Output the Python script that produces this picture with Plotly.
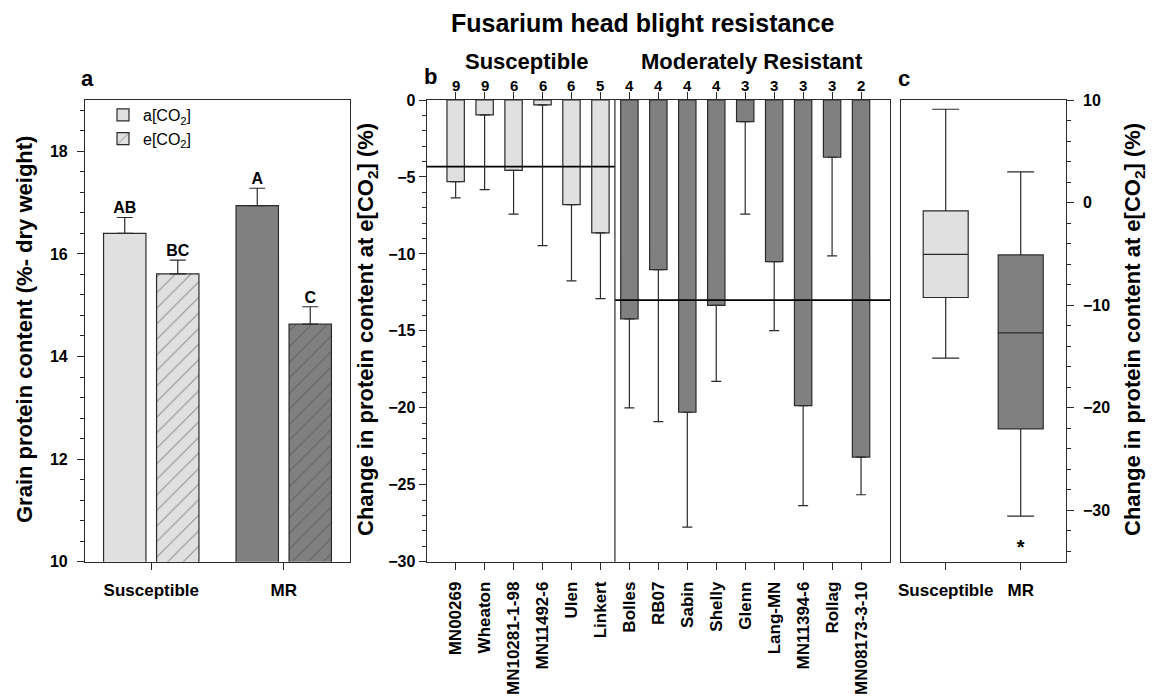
import plotly.graph_objects as go

W, H = 1158, 699
FONT = "Liberation Sans, Arial, sans-serif"
INK = "#2b2b2b"
LIGHT = "#e0e0e0"
DARK = "#808080"

# ---- panel a: grain protein by resistance class and CO2 treatment ----
groups = ["Susceptible", "MR"]
protein_ambient = [16.40, 16.94]
protein_ambient_se = [0.31, 0.34]
protein_elevated = [15.61, 14.63]
protein_elevated_se = [0.27, 0.34]
letters_ambient = ["AB", "A"]
letters_elevated = ["BC", "C"]

# ---- panel b: per-cultivar change in protein at e[CO2] ----
susceptible_cultivars = ["MN00269", "Wheaton", "MN10281-1-98", "MN11492-6", "Ulen", "Linkert"]
resistant_cultivars = ["Bolles", "RB07", "Sabin", "Shelly", "Glenn", "Lang-MN",
                       "MN11394-6", "Rollag", "MN08173-3-10"]
susceptible_change = [-5.30, -0.97, -4.57, -0.32, -6.80, -8.64]
susceptible_err = [1.06, 4.85, 2.85, 9.14, 4.95, 4.26]
resistant_change = [-14.22, -11.02, -20.29, -13.35, -1.41, -10.50, -19.86, -3.72, -23.20]
resistant_err = [5.79, 9.88, 7.46, 4.93, 6.01, 4.48, 6.50, 6.41, 2.45]
susceptible_n = [9, 9, 6, 6, 6, 5]
resistant_n = [4, 4, 4, 4, 3, 3, 3, 3, 2]
group_means = [-4.33, -13.0]

# ---- panel c: distribution of change by resistance class ----
box_groups = ["Susceptible", "MR"]
box_upper = [9.1, 3.0]
box_q3 = [-0.8, -5.1]
box_median = [-5.05, -12.7]
box_q1 = [-9.25, -22.05]
box_lower = [-15.15, -30.55]
mr_outlier = [-32.8]


def px(x):
    return x / W


def py(y):
    return 1 - y / H


Y_DOMAIN = [py(561.7), py(100)]
TICK = dict(family=FONT, size=16, color="black", weight="bold")
XTICK = dict(family=FONT, size=17, color="black", weight="bold")


def axis_style(**kw):
    base = dict(showline=True, linecolor=INK, linewidth=1.2, ticks="outside",
                tickcolor=INK, tickwidth=1.2, ticklen=7, showgrid=False,
                zeroline=False, tickfont=TICK, automargin=False)
    base.update(kw)
    return base


fig = go.Figure()

# panel a bars
GROUP_OFFSET = 0.2
BAR_W = 0.32
xa = list(range(len(groups)))
x_amb = [i - GROUP_OFFSET for i in xa]
x_elv = [i + GROUP_OFFSET for i in xa]

fig.add_trace(go.Bar(
    x=x_amb, y=protein_ambient, width=BAR_W, name="a[CO<sub>2</sub>]",
    marker=dict(color=[LIGHT, DARK], line=dict(color=INK, width=1.2)),
    error_y=dict(type="data", symmetric=False, array=protein_ambient_se,
                 arrayminus=[0] * len(groups), color=INK, thickness=1.2, width=8),
    xaxis="x", yaxis="y",
))
fig.add_trace(go.Bar(
    x=x_elv, y=protein_elevated, width=BAR_W, name="e[CO<sub>2</sub>]",
    marker=dict(color=[LIGHT, DARK], line=dict(color=INK, width=1.2),
                pattern=dict(shape="/", fgcolor=INK, bgcolor=[LIGHT, DARK],
                             size=11, solidity=0.1, fillmode="overlay")),
    error_y=dict(type="data", symmetric=False, array=protein_elevated_se,
                 arrayminus=[0] * len(groups), color=INK, thickness=1.2, width=8),
    xaxis="x", yaxis="y",
))
fig.add_trace(go.Scatter(
    x=x_amb + x_elv,
    y=[v + e for v, e in zip(protein_ambient, protein_ambient_se)]
      + [v + e for v, e in zip(protein_elevated, protein_elevated_se)],
    text=letters_ambient + letters_elevated, mode="text", textposition="top center",
    textfont=dict(family=FONT, size=16, color="black", weight="bold"),
    showlegend=False, xaxis="x", yaxis="y", cliponaxis=False, hoverinfo="skip",
))

# panel b bars
cultivars = susceptible_cultivars + resistant_cultivars
change = susceptible_change + resistant_change
errs = susceptible_err + resistant_err
counts = susceptible_n + resistant_n
xb = list(range(len(cultivars)))
colors_b = [LIGHT] * len(susceptible_cultivars) + [DARK] * len(resistant_cultivars)

fig.add_trace(go.Bar(
    x=xb, y=change, width=0.6,
    marker=dict(color=colors_b, line=dict(color=INK, width=1.2)),
    error_y=dict(type="data", symmetric=False, array=[0] * len(change),
                 arrayminus=errs, color=INK, thickness=1.2, width=5),
    showlegend=False, xaxis="x2", yaxis="y2",
))

split = len(susceptible_cultivars) - 0.5
xb_lo, xb_hi = -1, len(cultivars)
for (x0, x1), m in zip([(xb_lo, split), (split, xb_hi)], group_means):
    fig.add_trace(go.Scatter(
        x=[x0, x1], y=[m, m], mode="lines", line=dict(color="black", width=1.8),
        showlegend=False, xaxis="x2", yaxis="y2", hoverinfo="skip",
    ))

# panel c boxes
for g, up, q3, med, q1, lo, col in zip(box_groups, box_upper, box_q3, box_median,
                                        box_q1, box_lower, [LIGHT, DARK]):
    fig.add_trace(go.Box(
        x=[g], q1=[q1], median=[med], q3=[q3], lowerfence=[lo], upperfence=[up],
        width=0.6, whiskerwidth=0.6, fillcolor=col,
        line=dict(color=INK, width=1.2), boxpoints=False,
        showlegend=False, xaxis="x3", yaxis="y3",
    ))
fig.add_trace(go.Scatter(
    x=["MR"] * len(mr_outlier), y=mr_outlier, mode="text", text=["*"] * len(mr_outlier),
    textfont=dict(family=FONT, size=20, color="black", weight="bold"),
    textposition="bottom center", showlegend=False, xaxis="x3", yaxis="y3",
    hoverinfo="skip", cliponaxis=False,
))

annotations = []
# count labels above panel b
for i, n in zip(xb, counts):
    annotations.append(dict(
        x=i, y=0, xref="x2", yref="y2", text=str(n), showarrow=False,
        xanchor="center", yanchor="bottom", yshift=4,
        font=dict(family=FONT, size=15, color="black", weight="bold"),
    ))

HEAD = dict(family=FONT, size=22, color="black", weight="bold")
ATITLE = dict(family=FONT, size=22, color="black", weight="bold")


def label(x, y, text, font, angle=0):
    return dict(x=px(x), y=py(y), xref="paper", yref="paper", showarrow=False,
                xanchor="center", yanchor="middle", text=text, font=font,
                textangle=angle)


annotations += [
    label(643, 23, "Fusarium head blight resistance",
          dict(family=FONT, size=25, color="black", weight="bold")),
    label(526, 62, "Susceptible", HEAD),
    label(752, 62, "Moderately Resistant", HEAD),
    label(87, 79, "a", HEAD),
    label(430, 77, "b", HEAD),
    label(904, 79, "c", HEAD),
    label(24, 330, "Grain protein content (%- dry weight)", ATITLE, -90),
    label(367, 330, "Change in protein content at e[CO<sub>2</sub>] (%)", ATITLE, -90),
    label(1134, 330, "Change in protein content at e[CO<sub>2</sub>] (%)", ATITLE, -90),
]

shapes = [dict(type="line", xref="x2", yref="y2 domain", x0=split, x1=split,
               y0=0, y1=1, line=dict(color=INK, width=1.2))]

fig.update_layout(
    width=W, height=H, margin=dict(l=0, r=0, t=0, b=0, autoexpand=False),
    paper_bgcolor="white", plot_bgcolor="white",
    font=dict(family=FONT, color="black"),
    barmode="overlay",
    showlegend=True,
    legend=dict(x=px(103), y=py(98), xanchor="left", yanchor="top",
                bgcolor="rgba(0,0,0,0)", font=dict(family=FONT, size=16, color="black"),
                itemwidth=30, tracegroupgap=2),
    annotations=annotations,
    shapes=shapes,
    xaxis=axis_style(domain=[px(85), px(350)], anchor="y", range=[-0.5, 1.5],
                     tickvals=xa, ticktext=groups, mirror=True, tickfont=XTICK,
                     ticklabelstandoff=6),
    yaxis=axis_style(domain=Y_DOMAIN, anchor="x", range=[10, 19], tickvals=[10, 12, 14, 16, 18],
                     mirror=True, ticklabelstandoff=6,
                     minor=dict(dtick=0.4, tick0=10, ticks="outside", ticklen=4,
                                tickcolor=INK, tickwidth=1.2)),
    xaxis2=axis_style(domain=[px(426.7), px(890)], anchor="y2", range=[xb_lo, xb_hi],
                      tickvals=xb, ticktext=cultivars, tickangle=-90, mirror="ticks",
                      tickfont=XTICK, ticklabelstandoff=5),
    yaxis2=axis_style(domain=Y_DOMAIN, anchor="x2", range=[-30, 0], dtick=5, mirror=True,
                      minor=dict(dtick=1, ticks="outside", ticklen=4,
                                 tickcolor=INK, tickwidth=1.2)),
    xaxis3=axis_style(domain=[px(900.7), px(1065.7)], anchor="y3", range=[-0.6, 1.6],
                      type="category", categoryorder="array", categoryarray=box_groups,
                      mirror=True, tickfont=XTICK, ticklabelstandoff=6),
    yaxis3=axis_style(domain=Y_DOMAIN, anchor="x3", side="right", range=[-35, 10],
                      tickvals=[-30, -20, -10, 0, 10], mirror=True, ticklabelstandoff=6,
                      minor=dict(dtick=2, tick0=0, ticks="outside", ticklen=4,
                                 tickcolor=INK, tickwidth=1.2)),
)

fig.write_html("out.html")
